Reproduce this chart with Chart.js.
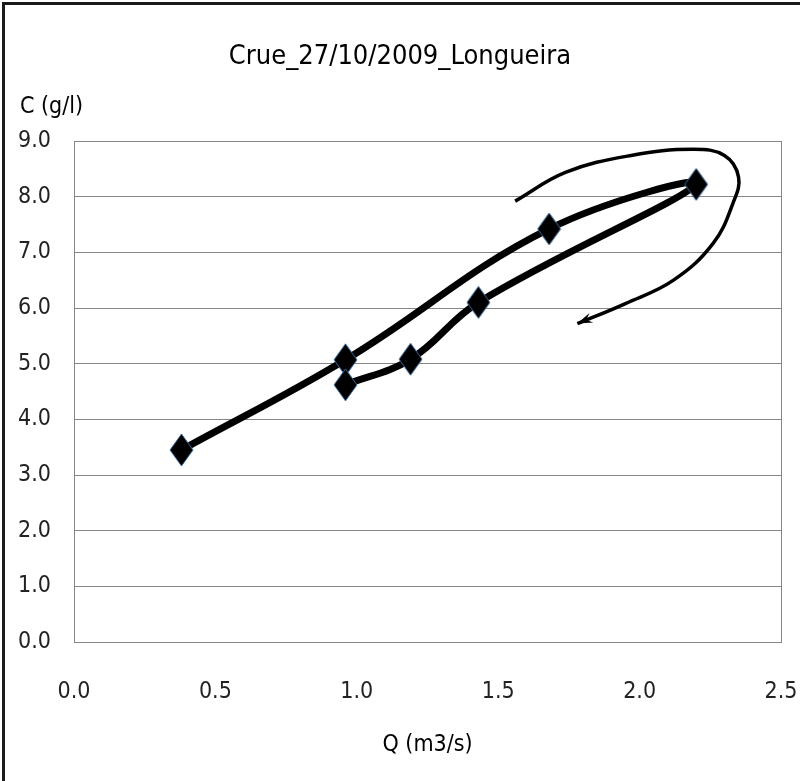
<!DOCTYPE html>
<html>
<head>
<meta charset="utf-8">
<script src="https://cdn.jsdelivr.net/npm/chart.js@4.4.1/dist/chart.umd.min.js"></script>
<style>
  html, body { margin: 0; padding: 0; background: #fff; }
  #wrap { width: 800px; height: 781px; }
</style>
</head>
<body>
<div id="wrap"><canvas id="crue"></canvas></div>
<script>
// discharge Q (m3/s) and concentration C (g/l), in sampling order (rise then fall)
const debit = [0.38, 0.96, 1.68, 2.20, 1.43, 1.19, 0.96];
const conc = [3.45, 5.07, 7.42, 8.22, 6.10, 5.08, 4.62];

// hand-drawn arrow showing the loop direction (clockwise)
const arrowQ = [1.56, 1.74, 1.97, 2.19, 2.30, 2.35, 2.33, 2.26, 2.12, 1.95, 1.78];
const arrowC = [7.92, 8.44, 8.74, 8.85, 8.74, 8.35, 7.88, 7.16, 6.50, 6.08, 5.72];

const titre = "Crue_27/10/2009_Longueira";
const titreY = "C (g/l)";
const titreX = "Q (m3/s)";

const FONT = "'DejaVu Sans Condensed', 'Liberation Sans Narrow', sans-serif";

// diamond marker, a bit taller than wide
function makeDiamond(w, h) {
  const c = document.createElement("canvas");
  c.width = w + 2;
  c.height = h + 2;
  const g = c.getContext("2d");
  g.beginPath();
  g.moveTo(c.width / 2, 1);
  g.lineTo(c.width - 1, c.height / 2);
  g.lineTo(c.width / 2, c.height - 1);
  g.lineTo(1, c.height / 2);
  g.closePath();
  g.fillStyle = "#000";
  g.fill();
  g.strokeStyle = "#3b6a9a";
  g.lineWidth = 1;
  g.stroke();
  return c;
}
const diamond = makeDiamond(23, 32);

const points = debit.map((q, i) => ({ x: q, y: conc[i] }));
const arrowPts = arrowQ.map((q, i) => ({ x: q, y: arrowC[i] }));

const decor = {
  id: "decor",
  beforeDraw(chart) {
    const { ctx, width, height } = chart;
    ctx.save();
    ctx.fillStyle = "#fff";
    ctx.fillRect(0, 0, width, height);
    // outer frame
    ctx.strokeStyle = "#1a1a1a";
    ctx.lineWidth = 3;
    ctx.beginPath();
    ctx.moveTo(3.5, height);
    ctx.lineTo(3.5, 3.5);
    ctx.lineTo(width, 3.5);
    ctx.stroke();
    ctx.restore();
  },
  beforeDatasetsDraw(chart) {
    const { ctx, chartArea: a } = chart;
    ctx.save();
    ctx.strokeStyle = "#868686";
    ctx.lineWidth = 1;
    ctx.strokeRect(Math.round(a.left) + 0.5, Math.round(a.top) + 0.5,
      Math.round(a.right - a.left), Math.round(a.bottom - a.top));
    ctx.restore();
  },
  afterDatasetsDraw(chart) {
    // arrow head at the end of the hand-drawn curve
    const meta = chart.getDatasetMeta(1);
    const n = meta.data.length;
    const tip = meta.data[n - 1];
    let fx = tip.cp1x, fy = tip.cp1y;
    if (fx === undefined || (fx === tip.x && fy === tip.y)) {
      fx = meta.data[n - 2].x;
      fy = meta.data[n - 2].y;
    }
    const ang = Math.atan2(tip.y - fy, tip.x - fx);
    const len = 16, spread = 0.32;
    const { ctx } = chart;
    ctx.save();
    ctx.fillStyle = "#000";
    ctx.beginPath();
    ctx.moveTo(tip.x, tip.y);
    ctx.lineTo(tip.x - len * Math.cos(ang - spread), tip.y - len * Math.sin(ang - spread));
    ctx.lineTo(tip.x - len * 0.6 * Math.cos(ang), tip.y - len * 0.6 * Math.sin(ang));
    ctx.lineTo(tip.x - len * Math.cos(ang + spread), tip.y - len * Math.sin(ang + spread));
    ctx.closePath();
    ctx.fill();
    ctx.restore();
  },
  afterDraw(chart) {
    const { ctx, chartArea: a } = chart;
    ctx.save();
    ctx.fillStyle = "#000";
    ctx.textBaseline = "middle";
    ctx.font = "27px " + FONT;
    ctx.textAlign = "center";
    ctx.fillText(titre, 400, a.top - 84);
    ctx.font = "23px " + FONT;
    ctx.textAlign = "left";
    ctx.fillText(titreY, 20, a.top - 34);
    ctx.restore();
  }
};

new Chart(document.getElementById("crue"), {
  type: "scatter",
  data: {
    datasets: [
      {
        data: points,
        showLine: true,
        borderColor: "#000",
        borderWidth: 7,
        tension: 0.4,
        pointStyle: diamond,
        pointRadius: 12,
        pointHoverRadius: 12,
        order: 0
      },
      {
        data: arrowPts,
        showLine: true,
        borderColor: "#000",
        borderWidth: 3.5,
        tension: 0.4,
        pointRadius: 0,
        pointHoverRadius: 0,
        order: 1
      }
    ]
  },
  options: {
    responsive: true,
    maintainAspectRatio: false,
    animation: false,
    layout: { padding: { top: 141, left: 0, right: 17, bottom: 0 } },
    plugins: {
      legend: { display: false },
      tooltip: { enabled: false }
    },
    scales: {
      x: {
        type: "linear",
        min: 0,
        max: 2.5,
        afterFit: (s) => {
          s.height = 139;
          s.paddingLeft = 0;
          s.paddingRight = 0;
        },
        grid: { display: false, drawTicks: false },
        border: { display: true, color: "#868686", width: 1 },
        ticks: {
          stepSize: 0.5,
          padding: 36,
          color: "#222",
          font: { family: FONT, size: 23 },
          callback: (v) => v.toFixed(1)
        },
        title: {
          display: true,
          text: titreX,
          color: "#000",
          font: { family: FONT, size: 23 },
          padding: { top: 0, bottom: 22 }
        }
      },
      y: {
        min: 0,
        max: 9,
        afterFit: (s) => { s.width = 74; },
        grid: { color: "#868686", lineWidth: 1, drawTicks: false },
        border: { display: true, color: "#868686", width: 1 },
        ticks: {
          stepSize: 1,
          padding: 23,
          color: "#222",
          font: { family: FONT, size: 23 },
          callback: (v) => v.toFixed(1)
        }
      }
    }
  },
  plugins: [decor]
});
</script>
</body>
</html>
